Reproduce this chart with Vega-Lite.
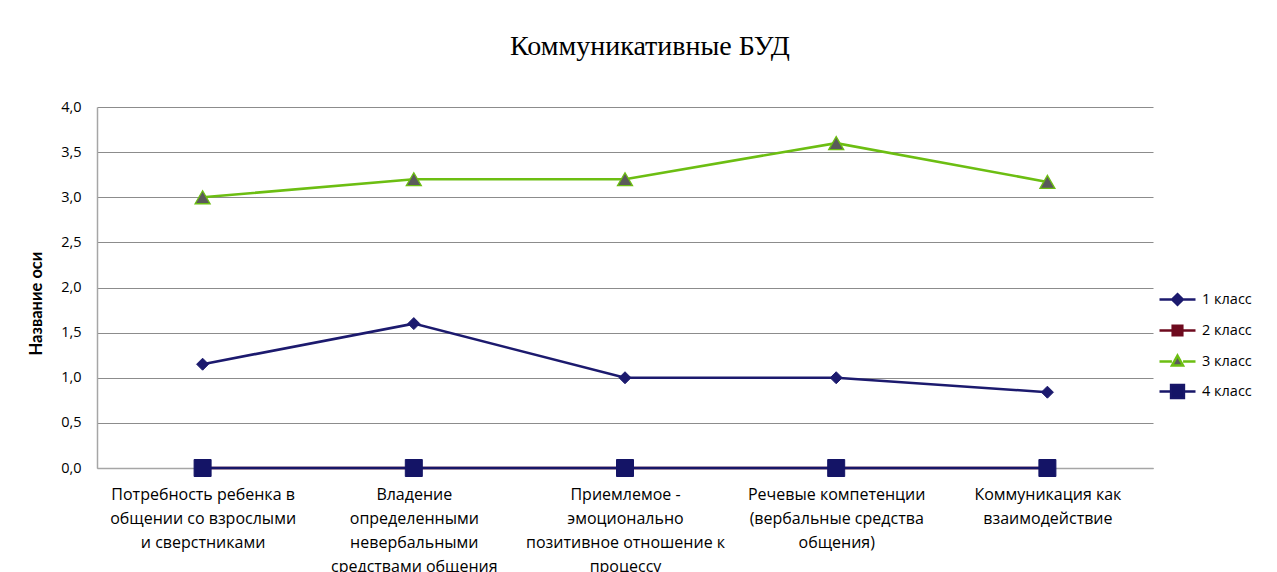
{
  "$schema": "https://vega.github.io/schema/vega-lite/v6.json",
  "width": 1056,
  "height": 361,
  "autosize": "none",
  "padding": {"left": 97, "top": 107, "right": 124, "bottom": 104},
  "background": "white",
  "title": {
    "text": "Коммуникативные БУД",
    "font": "Liberation Serif",
    "fontSize": 28,
    "fontWeight": "normal",
    "color": "#000000",
    "anchor": "middle",
    "offset": 38,
    "dx": 25
  },
  "config": {
    "view": {"stroke": null},
    "font": "Lato"
  },
  "data": {
    "values": [
      {"category": "Потребность ребенка в\nобщении со взрослыми\nи сверстниками", "series": "1 класс", "value": 1.15},
      {"category": "Владение\nопределенными\nневербальными\nсредствами общения", "series": "1 класс", "value": 1.6},
      {"category": "Приемлемое -\nэмоционально\nпозитивное отношение к\nпроцессу", "series": "1 класс", "value": 1.0},
      {"category": "Речевые компетенции\n(вербальные средства\nобщения)", "series": "1 класс", "value": 1.0},
      {"category": "Коммуникация как\nвзаимодействие", "series": "1 класс", "value": 0.84},
      {"category": "Потребность ребенка в\nобщении со взрослыми\nи сверстниками", "series": "2 класс", "value": 0},
      {"category": "Владение\nопределенными\nневербальными\nсредствами общения", "series": "2 класс", "value": 0},
      {"category": "Приемлемое -\nэмоционально\nпозитивное отношение к\nпроцессу", "series": "2 класс", "value": 0},
      {"category": "Речевые компетенции\n(вербальные средства\nобщения)", "series": "2 класс", "value": 0},
      {"category": "Коммуникация как\nвзаимодействие", "series": "2 класс", "value": 0},
      {"category": "Потребность ребенка в\nобщении со взрослыми\nи сверстниками", "series": "3 класс", "value": 3.0},
      {"category": "Владение\nопределенными\nневербальными\nсредствами общения", "series": "3 класс", "value": 3.2},
      {"category": "Приемлемое -\nэмоционально\nпозитивное отношение к\nпроцессу", "series": "3 класс", "value": 3.2},
      {"category": "Речевые компетенции\n(вербальные средства\nобщения)", "series": "3 класс", "value": 3.6},
      {"category": "Коммуникация как\nвзаимодействие", "series": "3 класс", "value": 3.17},
      {"category": "Потребность ребенка в\nобщении со взрослыми\nи сверстниками", "series": "4 класс", "value": 0},
      {"category": "Владение\nопределенными\nневербальными\nсредствами общения", "series": "4 класс", "value": 0},
      {"category": "Приемлемое -\nэмоционально\nпозитивное отношение к\nпроцессу", "series": "4 класс", "value": 0},
      {"category": "Речевые компетенции\n(вербальные средства\nобщения)", "series": "4 класс", "value": 0},
      {"category": "Коммуникация как\nвзаимодействие", "series": "4 класс", "value": 0}
    ]
  },
  "encoding": {
    "x": {
      "field": "category",
      "type": "nominal",
      "sort": null,
      "scale": {"type": "point", "padding": 0.5},
      "axis": {
        "title": null,
        "labelAngle": 0,
        "labelExpr": "split(datum.label, '\\n')",
        "labelFont": "Open Sans",
        "labelFontSize": 16,
        "labelColor": "#000000",
        "labelLineHeight": 24,
        "labelBaseline": "top",
        "labelPadding": 18,
        "labelLimit": 0,
        "ticks": false,
        "domainColor": "#A6A6A6",
        "domainWidth": 1.5,
        "grid": false
      }
    },
    "y": {
      "field": "value",
      "type": "quantitative",
      "scale": {"domain": [0, 4], "nice": false, "zero": true},
      "axis": {
        "values": [0, 0.5, 1, 1.5, 2, 2.5, 3, 3.5, 4],
        "labelExpr": "replace(format(datum.value, '.1f'), '.', ',')",
        "labelFont": "Open Sans",
        "labelFontSize": 14.5,
        "labelColor": "#000000",
        "labelPadding": 16,
        "ticks": false,
        "domainColor": "#A6A6A6",
        "domainWidth": 1.5,
        "grid": true,
        "gridColor": "#8C8C8C",
        "gridWidth": 1.2,
        "title": "Название оси",
        "titleFont": "Lato",
        "titleFontSize": 16.5,
        "titleFontWeight": "bold",
        "titleColor": "#000000",
        "titleX": -53,
        "titleY": 196,
        "titleAngle": -90
      }
    }
  },
  "layer": [
    {
      "mark": {"type": "line", "strokeWidth": 2.6},
      "encoding": {
        "stroke": {
          "field": "series",
          "type": "nominal",
          "scale": {
            "domain": ["1 класс", "2 класс", "3 класс", "4 класс"],
            "range": ["#1C1A6E", "#6E0A1E", "#6CBE12", "#171668"]
          },
          "legend": {
            "title": null,
            "orient": "none",
            "legendX": 1061,
            "legendY": 173,
            "padding": 0,
            "labelFont": "Open Sans",
            "labelFontSize": 14.5,
            "labelColor": "#000000",
            "labelOffset": 5,
            "rowPadding": 1,
            "symbolSize": 1296,
            "encode": {
              "symbols": {
                "update": {
                  "shape": {"signal": "datum.value === '1 класс' ? 'M-1,0H-0.28M0.28,0H1M0,-0.3L0.3,0L0,0.3L-0.3,0Z' : datum.value === '2 класс' ? 'M-1,0H-0.27M0.27,0H1M-0.27,-0.27H0.27V0.27H-0.27Z' : datum.value === '3 класс' ? 'M-1,0H-0.31M0.31,0H1M0,-0.33L0.31,0.22H-0.31Z' : 'M-1,0H-0.36M0.36,0H1M-0.36,-0.36H0.36V0.36H-0.36Z'"},
                  "fill": {"signal": "datum.value === '1 класс' ? '#1C1A6E' : datum.value === '2 класс' ? '#6E0A1E' : datum.value === '3 класс' ? '#5A5A5A' : '#141466'"},
                  "size": {"value": 1296},
                  "strokeWidth": {"value": 2.4},
                  "opacity": {"value": 1}
                }
              }
            }
          }
        }
      }
    },
    {
      "transform": [{"filter": "datum.series === '2 класс'"}],
      "mark": {"type": "point", "shape": "square", "filled": true, "opacity": 1, "fill": "#6E0A1E", "stroke": "#6E0A1E", "strokeWidth": 1, "size": 100}
    },
    {
      "transform": [{"filter": "datum.series === '1 класс'"}],
      "mark": {"type": "point", "shape": "diamond", "filled": true, "opacity": 1, "fill": "#1C1A6E", "stroke": "#1C1A6E", "strokeWidth": 1, "size": 144}
    },
    {
      "transform": [{"filter": "datum.series === '3 класс'"}],
      "mark": {"type": "point", "shape": "triangle-up", "filled": true, "opacity": 1, "fill": "#5A5A5A", "stroke": "#6CBE12", "strokeWidth": 1.3, "size": 225}
    },
    {
      "transform": [{"filter": "datum.series === '4 класс'"}],
      "mark": {"type": "point", "shape": "square", "filled": true, "opacity": 1, "fill": "#141466", "stroke": "#141466", "strokeWidth": 1, "size": 289}
    }
  ]
}
